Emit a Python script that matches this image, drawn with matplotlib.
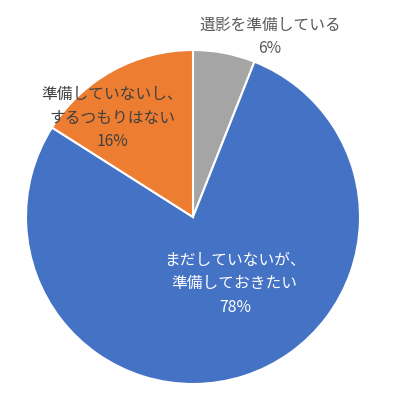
import matplotlib.pyplot as plt

plt.rcParams['font.family'] = ['Noto Sans CJK JP', 'DejaVu Sans']

labels = ['遺影を準備している', 'まだしていないが、\n準備しておきたい', '準備していないし、\nするつもりはない']
values = [6, 78, 16]
colors = ['#A5A5A5', '#4472C4', '#ED7D31']

fig = plt.figure(figsize=(3.96, 3.99), dpi=100)
ax = fig.add_axes([26 / 396, 15 / 399, 334 / 396, 334 / 399])

wedges, _ = ax.pie(values, colors=colors, startangle=90, counterclock=False,
                   radius=1, wedgeprops=dict(edgecolor='white', linewidth=1.5))
ax.set_xlim(-1, 1)
ax.set_ylim(-1, 1)

# label positions (data coords)
pos = [(0.46, 1.08), (0.25, -0.40), (-0.485, 0.59)]
txtcolors = ['#595959', 'white', '#404040']
for lab, v, p, c in zip(labels, values, pos, txtcolors):
    ax.text(p[0], p[1], '%s\n%d%%' % (lab, v), ha='center', va='center',
            fontsize=11.3, color=c, linespacing=1.5, clip_on=False)

fig.savefig('out.png', dpi=100)
